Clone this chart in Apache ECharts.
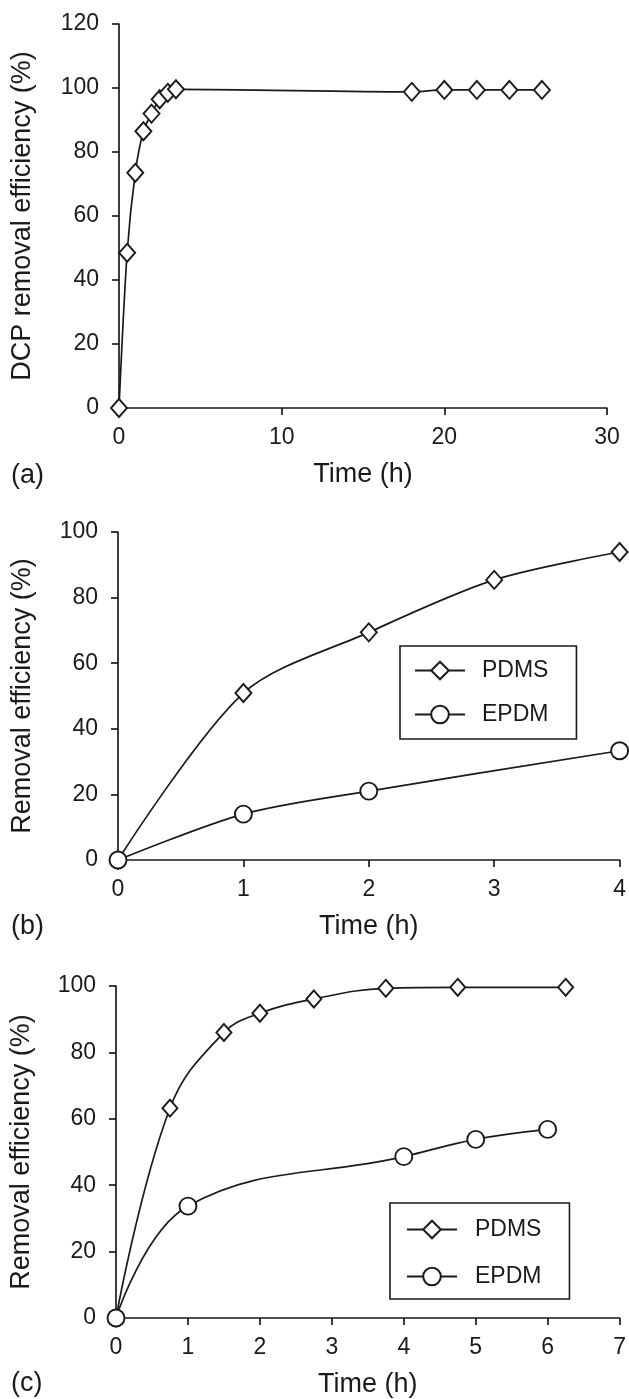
<!DOCTYPE html>
<html>
<head>
<meta charset="utf-8">
<script src="https://cdn.jsdelivr.net/npm/echarts@6/dist/echarts.min.js"></script>
<style>
html,body{margin:0;padding:0;background:#fff;}
#chart{width:629px;height:1399px;}
</style>
</head>
<body>
<div id="chart"></div>
<script>
// Panel (a): DCP removal
const timeA = [0, 0.5, 1, 1.5, 2, 2.5, 3, 3.5, 18, 20, 22, 24, 26];
const dcpA = [0, 48.5, 73.5, 86.5, 92, 96.5, 98.5, 99.6, 98.8, 99.4, 99.4, 99.4, 99.4];
// Panel (b)
const timeB_PDMS = [0, 1, 2, 3, 4];
const pdmsB = [0, 50.9, 69.4, 85.4, 93.9];
const timeB_EPDM = [0, 1, 2, 4];
const epdmB = [0, 14, 21, 33.3];
// Panel (c)
const timeC_PDMS = [0, 0.75, 1.5, 2, 2.75, 3.75, 4.75, 6.25];
const pdmsC = [0, 63.2, 86, 91.8, 96.1, 99.3, 99.6, 99.6];
const timeC_EPDM = [0, 1, 4, 5, 6];
const epdmC = [0, 33.7, 48.6, 53.8, 56.8];
// Labels
const panelLabels = ['(a)', '(b)', '(c)'];
const xName = 'Time (h)';
const yNameA = 'DCP removal efficiency (%)';
const yNameBC = 'Removal efficiency (%)';
const seriesNames = ['PDMS', 'EPDM'];

const FONT = '"Liberation Sans", Arial, sans-serif';
const INK = '#1a1a1a';

function pairs(xs, ys) { return xs.map((x, i) => [x, ys[i]]); }

function xAxisCfg(idx, max, interval) {
  return {
    type: 'value', gridIndex: idx, min: 0, max: max, interval: interval,
    name: xName, nameLocation: 'middle', nameGap: 53,
    nameTextStyle: { fontFamily: FONT, fontSize: 27, color: INK },
    axisLine: { show: true, onZero: false, lineStyle: { color: INK, width: 1.7 } },
    axisTick: { show: true, inside: false, length: 7, lineStyle: { color: INK, width: 1.7 } },
    axisLabel: { fontFamily: FONT, fontSize: 23, color: INK, margin: 18 },
    splitLine: { show: false }
  };
}
function yAxisCfg(idx, max, name, gap) {
  return {
    type: 'value', gridIndex: idx, min: 0, max: max, interval: 20,
    name: name, nameLocation: 'middle', nameGap: gap, nameRotate: 90,
    nameTextStyle: { fontFamily: FONT, fontSize: 27, color: INK },
    axisLine: { show: true, onZero: false, lineStyle: { color: INK, width: 1.7 } },
    axisTick: { show: true, inside: false, length: 7, lineStyle: { color: INK, width: 1.7 } },
    axisLabel: { fontFamily: FONT, fontSize: 23, color: INK, margin: 20 },
    splitLine: { show: false }
  };
}
function lineSeries(name, idx, data, symbol, size, smooth) {
  return {
    type: 'line', name: name, xAxisIndex: idx, yAxisIndex: idx,
    data: data, symbol: symbol, symbolSize: size, smooth: smooth,
    clip: false, showAllSymbol: true,
    lineStyle: { color: INK, width: 1.7 },
    itemStyle: { color: '#ffffff', borderColor: INK, borderWidth: 1.9 },
    emphasis: { disabled: true },
    z: 3
  };
}
function legendCfg(left, top, padding, gap, textPad) {
  return {
    orient: 'vertical', left: left, top: top, padding: padding,
    itemGap: gap, itemWidth: 50, itemHeight: 22,
    borderColor: INK, borderWidth: 1.6, backgroundColor: '#fff',
    data: seriesNames, selectedMode: false,
    textStyle: { fontFamily: FONT, fontSize: 23, color: INK, padding: [0, 0, 0, textPad] }
  };
}

const chart = echarts.init(document.getElementById('chart'), null, { renderer: 'canvas' });
chart.setOption({
  backgroundColor: '#ffffff',
  animation: false,
  grid: [
    { left: 119, right: 22, top: 24, height: 384 },
    { left: 118, right: 8, top: 532, height: 328 },
    { left: 116, right: 4, top: 986, height: 333 }
  ],
  xAxis: [xAxisCfg(0, 30, 10), xAxisCfg(1, 4, 1), xAxisCfg(2, 7, 1)],
  yAxis: [yAxisCfg(0, 120, yNameA, 83), yAxisCfg(1, 100, yNameBC, 82), yAxisCfg(2, 100, yNameBC, 81)],
  legend: [
    legendCfg(400, 646, [13, 28, 13, 14], 21, 12),
    legendCfg(390, 1203, [15, 28, 11, 16], 24, 13)
  ],
  graphic: [
    { type: 'text', left: 11, top: 462, style: { text: panelLabels[0], font: '27px ' + FONT, fill: INK } },
    { type: 'text', left: 11, top: 913, style: { text: panelLabels[1], font: '27px ' + FONT, fill: INK } },
    { type: 'text', left: 11, top: 1370, style: { text: panelLabels[2], font: '27px ' + FONT, fill: INK } }
  ],
  series: [
    lineSeries('DCP', 0, pairs(timeA, dcpA), 'diamond', [16, 18], 0.3),
    lineSeries(seriesNames[0], 1, pairs(timeB_PDMS, pdmsB), 'diamond', [16, 18], 0.3),
    lineSeries(seriesNames[1], 1, pairs(timeB_EPDM, epdmB), 'circle', 17, 0.3),
    lineSeries(seriesNames[0], 2, pairs(timeC_PDMS, pdmsC), 'diamond', [15, 17], 0.4),
    lineSeries(seriesNames[1], 2, pairs(timeC_EPDM, epdmC), 'circle', 17, 0.4)
  ]
});
</script>
</body>
</html>
